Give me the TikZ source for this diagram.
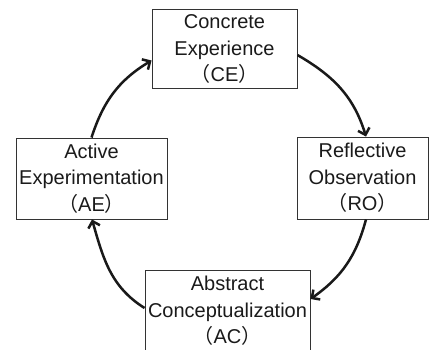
\documentclass[tikz,border=0pt]{standalone}
\usepackage{fontspec}
\setmainfont{Liberation Sans}
\newfontfamily\cjk{Noto Sans CJK JP}
\usetikzlibrary{arrows.meta}
\definecolor{boxline}{HTML}{333333}
\definecolor{txt}{HTML}{1A1A1A}
\newcommand{\fp}[1]{{\cjk （}#1{\cjk ）}}
\begin{document}
\begin{tikzpicture}[x=1pt,y=1pt,
  stagebox/.style={draw=boxline,line width=0.9pt,rectangle,align=center,text=txt,
     font=\fontsize{20pt}{26.5pt}\selectfont,inner sep=0pt},
  cyc/.style={line width=2.5pt,draw=black!90,-{Straight Barb[length=6pt,width=12pt]}}]
\useasboundingbox (0,0) rectangle (432,349);
\clip (0,0) rectangle (432,349);
\node[stagebox,minimum width=145pt,minimum height=79pt] (ce) at (224.5,300) {Concrete\\Experience\\\fp{CE}};
\node[stagebox,minimum width=151pt,minimum height=81pt] (ae) at (91.5,170.5) {Active\\Experimentation\\\fp{AE}};
\node[stagebox,minimum width=131pt,minimum height=82pt] (ro) at (362.5,171) {Reflective\\Observation\\\fp{RO}};
\node[stagebox,minimum width=165pt,minimum height=82pt] (ac) at (227.5,38) {Abstract\\Conceptualization\\\fp{AC}};
\draw[cyc] ([yshift=-6pt]ce.east) to[out=-30,in=107] ([xshift=3.5pt]ro.north);
\draw[cyc] ([xshift=3.5pt]ro.south) to[out=-105,in=35] ([yshift=12pt]ac.east);
\draw[cyc] ([yshift=3pt]ac.west) to[out=148,in=-74] ([xshift=0.5pt]ae.south);
\draw[cyc] (ae.north) to[out=72,in=-149] ([yshift=-11.5pt]ce.west);
\end{tikzpicture}
\end{document}
